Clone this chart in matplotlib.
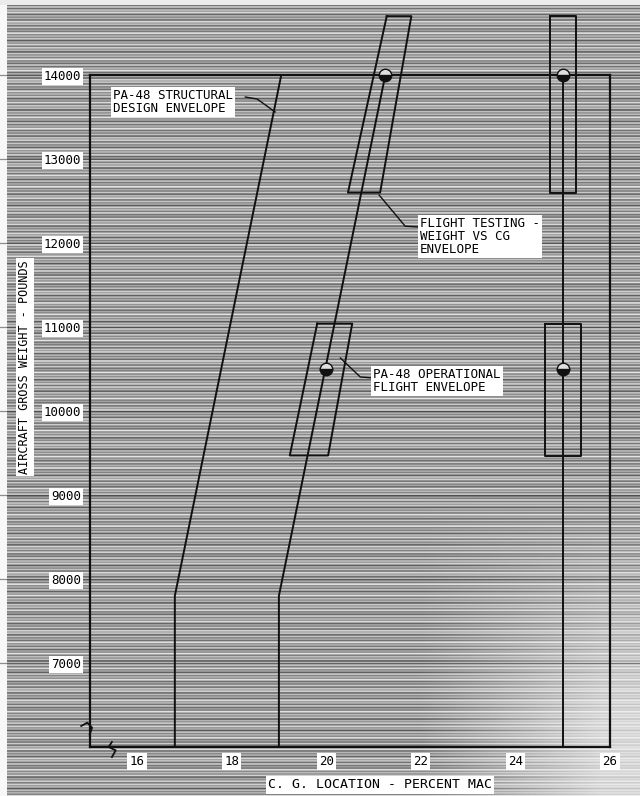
import numpy as np
import matplotlib
matplotlib.use("Agg")
import matplotlib.pyplot as plt

# Datos (CG en % MAC, peso en libras)
struct_weight = [6000, 7800, 14000]
struct_cg = [16.8, 16.8, 19.05]

oper_weight = [6000, 7800, 14000]
oper_fwd_cg = [19.0, 19.0, 21.25]
oper_aft_weight = [6000, 14000]
oper_aft_cg = [25.0, 25.0]

test_cg = [21.25, 25.0, 20.0, 25.0]
test_weight = [14000, 14000, 10500, 10500]

# cajas de ensayo en vuelo (peso vs CG)
box_hi_weight = [14700, 14700, 12600, 12600, 14700]
box_fwd_hi_cg = [21.28, 21.80, 21.14, 20.46, 21.28]
box_aft_hi_cg = [24.73, 25.28, 25.28, 24.73, 24.73]
box_lo_weight = [11040, 11040, 9470, 9470, 11040]
box_fwd_lo_cg = [19.81, 20.55, 20.04, 19.23, 19.81]
box_aft_lo_cg = [24.63, 25.39, 25.39, 24.63, 24.63]

x_ticks = [16, 18, 20, 22, 24, 26]
x_tick_labels = ["16", "18", "20", "22", "24", "26"]
y_ticks = [7000, 8000, 9000, 10000, 11000, 12000, 13000, 14000]
y_tick_labels = ["7000", "8000", "9000", "10000", "11000", "12000", "13000", "14000"]

W, H, DPI = 640, 796, 100
fig = plt.figure(figsize=(W / DPI, H / DPI), dpi=DPI)
fig.patch.set_facecolor("#9a9a9a")

# textura de fondo: rayas horizontales del escaneo (patron fijo)
rows = np.arange(H)[:, None]
cols = np.arange(W)[None, :]
v = (0.63 + 0.14 * np.sin(2 * np.pi * rows / 2.9)
     + 0.09 * np.sin(2 * np.pi * rows / 5.3 + 0.7)
     + 0.06 * np.sin(2 * np.pi * rows / 11.7 + 2.1)) * np.ones((1, W))
aclarar = np.clip((cols - 420) / 180, 0, 1) * np.clip((rows - 500) / 220, 0, 1)
v = v * (1 - 0.7 * aclarar) + 0.95 * 0.7 * aclarar
v[:, :7] = 0.97
v[:5, :] = 0.92
v = np.clip(v, 0, 1)

ax_bg = fig.add_axes([0, 0, 1, 1], zorder=-1)
ax_bg.imshow(v, cmap="gray", vmin=0, vmax=1, aspect="auto", interpolation="nearest")
ax_bg.axis("off")

ax = fig.add_axes([89.7 / W, 49 / H, (610 - 89.7) / W, (747 - 75) / H], zorder=1)
ax.set_xlim(15, 26)
ax.set_ylim(6000, 14000)
ax.patch.set_alpha(0)
for s in ax.spines.values():
    s.set_linewidth(1.6)
    s.set_color("#111111")

fuente = "DejaVu Sans Mono"
caja = dict(facecolor="white", edgecolor="none", pad=1.5)

ax.set_xticks(x_ticks)
ax.set_xticklabels(x_tick_labels, family=fuente, fontsize=9)
ax.set_yticks(y_ticks)
ax.set_yticklabels(y_tick_labels, family=fuente, fontsize=9)
ax.tick_params(length=0, pad=6)
for lab in ax.get_xticklabels() + ax.get_yticklabels():
    lab.set_bbox(caja)

# lineas de la cuadricula que cruzan toda la hoja
x0, x1 = 13.1, 26.63
for w in y_ticks:
    ax.plot([x0, x1], [w, w], color="#333333", lw=0.9, alpha=0.55, clip_on=False, zorder=1)

kw = dict(color="#111111", lw=1.4, clip_on=False, zorder=3)
ax.plot(struct_cg, struct_weight, **kw)
ax.plot(oper_fwd_cg, oper_weight, **kw)
ax.plot(oper_aft_cg, oper_aft_weight, **kw)
ax.plot(box_fwd_hi_cg, box_hi_weight, **kw)
ax.plot(box_aft_hi_cg, box_hi_weight, **kw)
ax.plot(box_fwd_lo_cg, box_lo_weight, **kw)
ax.plot(box_aft_lo_cg, box_lo_weight, **kw)

ax.plot(test_cg, test_weight, "o", ms=9, mfc="#111111", mfcalt="#e0e0e0",
        fillstyle="bottom", mec="#111111", mew=1.0, clip_on=False, zorder=4)

# cortes de eje
ax.plot([14.82, 14.95, 15.05, 15.0], [6250, 6290, 6230, 6150], color="#111111", lw=1.3, clip_on=False, zorder=3)
ax.plot([15.47, 15.40, 15.55, 15.47], [6060, 6000, 5960, 5880], color="#111111", lw=1.3, clip_on=False, zorder=3)

# rotulos
ax.text(15.5, 13830, "PA-48 STRUCTURAL\nDESIGN ENVELOPE", family=fuente, fontsize=9,
        ha="left", va="top", linespacing=1.0, bbox=caja, zorder=5)
ax.plot([18.29, 18.54, 18.92], [13738, 13714, 13560], color="#111111", lw=1.0, zorder=3)

ax.text(21.98, 12310, "FLIGHT TESTING -\nWEIGHT VS CG\nENVELOPE", family=fuente, fontsize=9,
        ha="left", va="top", linespacing=1.0, bbox=caja, zorder=5)
ax.plot([21.98, 21.67, 21.12], [12190, 12200, 12570], color="#111111", lw=1.0, zorder=3)

ax.text(20.99, 10510, "PA-48 OPERATIONAL\nFLIGHT ENVELOPE", family=fuente, fontsize=9,
        ha="left", va="top", linespacing=1.0, bbox=caja, zorder=5)
ax.plot([20.99, 20.72, 20.30], [10393, 10405, 10631], color="#111111", lw=1.0, zorder=3)

ax.text(13.63, 10524, "AIRCRAFT GROSS WEIGHT - POUNDS", family=fuente, fontsize=8.5,
        rotation=90, ha="center", va="center", bbox=caja, clip_on=False, zorder=5)
ax.text(21.14, 5548, "C. G. LOCATION - PERCENT MAC", family=fuente, fontsize=9.5,
        ha="center", va="center", bbox=caja, clip_on=False, zorder=5)

fig.savefig("out.png", dpi=DPI, facecolor=fig.get_facecolor())
